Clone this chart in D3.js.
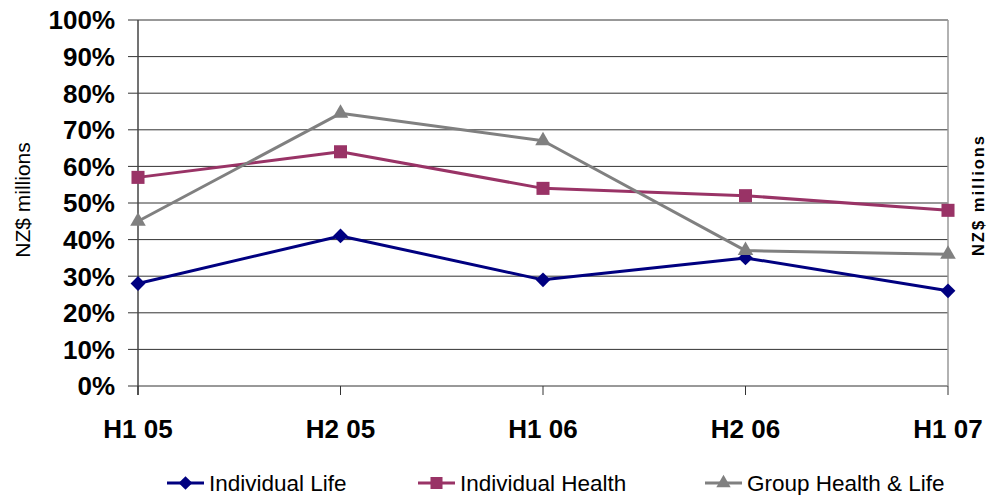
<!DOCTYPE html>
<html>
<head>
<meta charset="utf-8">
<script src="https://cdn.jsdelivr.net/npm/d3@7"></script>
<style>
  body { margin: 0; background: #fff; }
  svg { display: block; font-family: "Liberation Sans", Arial, sans-serif; }
</style>
</head>
<body>
<div id="chart"></div>
<script>
// chart data
var periods = ["H1 05", "H2 05", "H1 06", "H2 06", "H1 07"];
var individualLife = [28, 41, 29, 35, 26];
var individualHealth = [57, 64, 54, 52, 48];
var groupHealthLife = [45, 74.5, 67, 37, 36];
var yTicks = [0, 10, 20, 30, 40, 50, 60, 70, 80, 90, 100];

var seriesList = [
    { name: "Individual Life", values: individualLife, color: "#000080", symbol: d3.symbolSquare, size: 110, rotate: 45 },
    { name: "Individual Health", values: individualHealth, color: "#993366", symbol: d3.symbolSquare, size: 170, rotate: 0 },
    { name: "Group Health & Life", values: groupHealthLife, color: "#808080", symbol: d3.symbolTriangle, size: 105, rotate: 0 }
];

var svgWidth = 988, svgHeight = 495;
var margin = { top: 20, right: 40, bottom: 109, left: 138 };
var width = svgWidth - margin.left - margin.right;
var height = svgHeight - margin.top - margin.bottom;

var svg = d3.select("#chart")
    .append("svg")
    .attr("width", svgWidth)
    .attr("height", svgHeight);

var g = svg.append("g")
    .attr("transform", "translate(" + margin.left + "," + margin.top + ")");

var xScale = d3.scalePoint()
    .domain(periods)
    .range([0, width]);

var yScale = d3.scaleLinear()
    .domain([0, 100])
    .range([height, 0]);

// horizontal gridlines with left tick marks
g.selectAll(".grid")
    .data(yTicks)
    .enter().append("line")
    .attr("x1", -10)
    .attr("x2", width)
    .attr("y1", d => yScale(d))
    .attr("y2", d => yScale(d))
    .attr("stroke", "#333")
    .attr("stroke-width", 1);

// right border of plot area
g.append("line")
    .attr("x1", width).attr("x2", width)
    .attr("y1", 0).attr("y2", height)
    .attr("stroke", "#999")
    .attr("stroke-width", 1.5);

// y axis labels
g.selectAll(".ylab")
    .data(yTicks)
    .enter().append("text")
    .attr("x", -23)
    .attr("y", d => yScale(d))
    .attr("dy", "0.36em")
    .attr("text-anchor", "end")
    .style("font-size", "26px")
    .style("font-weight", "bold")
    .text(d => d + "%");

// y axis line
g.append("line")
    .attr("x1", 0).attr("x2", 0)
    .attr("y1", 0).attr("y2", height + 9)
    .attr("stroke", "#444")
    .attr("stroke-width", 1.5);

// x tick marks
g.selectAll(".xtick")
    .data(periods)
    .enter().append("line")
    .attr("x1", d => xScale(d))
    .attr("x2", d => xScale(d))
    .attr("y1", height)
    .attr("y2", height + 9)
    .attr("stroke", "#333")
    .attr("stroke-width", 1);

// x axis labels
g.selectAll(".xlab")
    .data(periods)
    .enter().append("text")
    .attr("x", d => xScale(d))
    .attr("y", height + 52)
    .attr("text-anchor", "middle")
    .style("font-size", "26px")
    .style("font-weight", "bold")
    .text(d => d);

// lines
var line = d3.line()
    .x((d, i) => xScale(periods[i]))
    .y(d => yScale(d));

seriesList.forEach(function(s) {
    g.append("path")
        .datum(s.values)
        .attr("fill", "none")
        .attr("stroke", s.color)
        .attr("stroke-width", 3)
        .attr("stroke-linejoin", "round")
        .attr("d", line);

    g.selectAll(null)
        .data(s.values)
        .enter().append("path")
        .attr("transform", (d, i) => "translate(" + xScale(periods[i]) + "," + yScale(d) + ") rotate(" + s.rotate + ")")
        .attr("d", d3.symbol().type(s.symbol).size(s.size))
        .attr("fill", s.color);
});

// axis titles
svg.append("text")
    .attr("transform", "translate(30,200) rotate(-90)")
    .attr("text-anchor", "middle")
    .style("font-size", "21px")
    .text("NZ$ millions");

svg.append("text")
    .attr("transform", "translate(984,195) rotate(-90)")
    .attr("text-anchor", "middle")
    .style("font-size", "16.5px")
    .style("font-weight", "bold")
    .style("letter-spacing", "2px")
    .text("NZ$ millions");

// legend
var legendX = [167, 418, 705];
var legend = svg.selectAll(".legend")
    .data(seriesList)
    .enter().append("g")
    .attr("transform", (d, i) => "translate(" + legendX[i] + ",483)");

legend.append("line")
    .attr("x1", 0).attr("x2", 37)
    .attr("stroke", d => d.color)
    .attr("stroke-width", 3);

legend.append("path")
    .attr("transform", d => "translate(18.5,0) rotate(" + d.rotate + ")")
    .attr("d", d => d3.symbol().type(d.symbol).size(d.size * 0.85)())
    .attr("fill", d => d.color);

legend.append("text")
    .attr("x", 42)
    .attr("dy", "0.36em")
    .style("font-size", "22.5px")
    .text(d => d.name);
</script>
</body>
</html>
